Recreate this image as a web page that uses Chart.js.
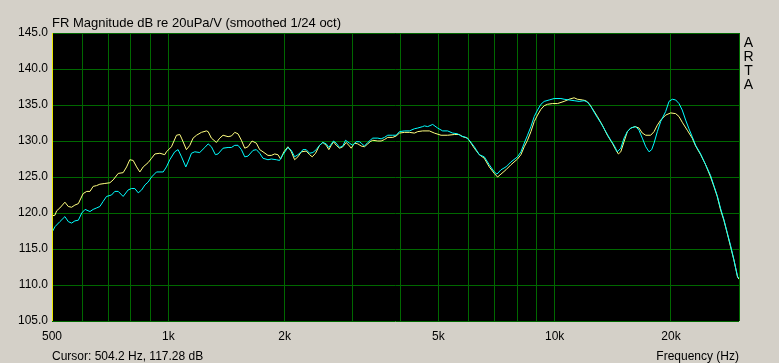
<!DOCTYPE html>
<html>
<head>
<meta charset="utf-8">
<script src="https://cdn.jsdelivr.net/npm/chart.js@4/dist/chart.umd.min.js"></script>
<style>
  html, body { margin: 0; padding: 0; background: #d4d0c8; }
  canvas { display: block; }
</style>
</head>
<body>
<canvas id="fr" width="779" height="363"></canvas>
<script>
const cyanHz = [500,509,524,540,551,562,573,585,597,609,
  627,639,652,665,678,692,713,727,742,764,
  787,803,819,836,853,870,887,905,932,970,
  989,1009,1039,1060,1082,1110,1125,1148,1171,1206,
  1243,1268,1293,1324,1345,1386,1428,1457,1486,1515,
  1546,1577,1608,1657,1690,1724,1758,1811,1848,1904,
  1941,1980,2040,2082,2123,2165,2209,2230,2275,2321,
  2367,2415,2463,2512,2563,2603,2677,2721,2775,2829,
  2875,2944,3003,3064,3125,3157,3219,3283,3330,3382,
  3485,3555,3626,3698,3810,3888,3965,4084,4208,4335,
  4421,4554,4601,4692,4834,4979,5130,5284,5445,5608,
  5722,5895,6013,6195,6382,6575,6773,6978,7091,7261,
  7480,7707,8015,8179,8341,8506,8680,8854,9029,9213,
  9395,9679,9971,10380,10580,10900,11230,11570,11920,12160,
  12410,12780,13170,13560,13970,14250,14530,14830,15120,15420,
  15740,16210,16530,16860,17210,17550,17830,18080,18440,18810,
  19380,19770,20160,20570,20980,21390,21830,22260,22700,23170,
  23870,24590,25330,25830,26350,26890,27410,27960,28530,29100,
  29740,30000];
const cyanDb = [117.3,118.1,118.8,119.5,118.8,118.6,118.9,119.0,120.0,120.5,
  120.2,120.5,120.7,120.9,121.6,122.3,122.5,123.0,123.0,122.3,
  123.2,123.4,123.4,122.8,123.2,123.9,124.3,125.0,125.7,125.7,
  126.4,127.4,128.5,128.8,127.8,126.4,127.1,128.3,128.5,128.4,
  129.1,129.6,129.2,128.1,128.2,129.0,129.1,129.1,129.4,129.4,
  128.8,127.8,127.9,128.7,128.8,128.3,127.6,127.4,127.5,127.4,
  127.3,128.1,129.1,128.7,127.8,128.1,128.5,128.8,128.8,128.3,
  128.4,128.8,129.4,129.8,129.6,129.1,130.0,129.7,129.1,129.3,
  130.1,129.7,129.4,129.9,129.9,129.7,129.3,129.8,130.1,130.4,
  130.4,130.3,130.5,130.8,130.8,130.8,131.3,131.4,131.4,131.7,
  131.8,132.0,132.1,132.0,132.3,131.8,131.4,131.4,131.1,131.0,
  130.7,130.5,130.1,129.2,128.1,127.8,126.7,125.7,125.4,126.0,
  126.4,127.1,127.8,128.5,129.7,130.8,132.0,133.4,134.3,135.1,
  135.5,135.7,135.9,135.9,135.8,135.7,135.6,135.5,135.6,135.4,
  134.8,133.6,132.5,131.3,130.1,129.4,128.5,129.0,130.4,131.3,
  131.8,132.0,131.5,130.4,129.2,128.5,128.8,129.7,131.3,132.7,
  134.1,135.5,135.8,135.7,135.2,134.3,132.9,131.7,130.6,129.4,
  128.2,126.7,125.2,123.8,122.4,120.6,119.1,117.3,115.5,113.5,
  111.2,110.9];

const yellowHz = [500,509,514,524,540,551,562,573,585,602,
  615,627,639,652,665,685,706,720,742,764,
  780,795,811,828,844,861,887,905,923,951,
  979,989,1019,1050,1071,1082,1114,1137,1159,1183,
  1218,1255,1268,1293,1332,1359,1386,1428,1457,1486,
  1515,1546,1577,1608,1647,1690,1724,1758,1811,1848,
  1885,1922,1953,1992,2040,2082,2123,2165,2210,2275,
  2321,2358,2405,2463,2512,2563,2603,2641,2677,2721,
  2775,2829,2887,2944,2974,3033,3094,3157,3219,3283,
  3330,3382,3485,3555,3626,3698,3810,3888,3965,4084,
  4208,4335,4421,4554,4739,4883,5081,5284,5500,5667,
  5779,5954,6075,6195,6382,6575,6773,6978,7116,7261,
  7480,7707,8015,8179,8341,8506,8680,8854,9029,9213,
  9395,9581,9871,10170,10580,10900,11230,11450,11800,12040,
  12280,12520,12900,13290,13690,14100,14390,14620,14830,15120,
  15420,15740,16140,16530,16860,17210,17720,18080,18440,18810,
  19380,19970,20570,20980,21390,22040,22700,23170,23870,24590,
  25330,25830,26350,26890,27410,27960,28530,29100,29740,30000];
const yellowDb = [119.6,119.7,120.3,120.7,121.5,120.9,120.8,121.1,121.3,122.7,
  123.0,123.0,123.7,123.8,124.0,124.1,124.2,124.6,125.5,125.6,
  126.4,127.4,127.3,126.4,125.7,126.4,127.0,127.6,128.2,128.3,
  128.1,128.5,129.2,130.8,130.9,130.4,128.8,129.4,130.4,130.8,
  131.2,131.4,131.3,130.4,129.8,130.4,130.8,130.6,130.7,131.2,
  131.0,130.1,129.0,129.2,130.0,129.7,128.8,128.5,128.0,128.0,
  128.2,128.1,127.5,128.5,129.2,128.5,127.4,127.8,128.5,128.6,
  128.1,127.8,128.3,129.4,129.8,129.4,128.8,129.4,129.9,129.4,
  129.0,129.2,129.8,129.3,129.0,129.7,129.6,129.3,129.2,129.6,
  129.9,130.1,130.0,130.0,130.2,130.5,130.5,130.7,131.1,131.2,
  131.2,131.1,131.3,131.4,131.4,131.1,130.8,130.8,130.9,130.9,
  130.6,130.4,129.7,129.0,128.1,127.6,126.4,125.5,125.0,125.4,
  126.0,126.7,127.5,128.1,129.2,130.1,131.3,132.7,133.6,134.4,
  134.9,135.1,135.2,135.2,135.5,135.8,136.0,135.8,135.7,135.6,
  135.2,134.5,133.4,132.2,130.8,129.7,128.8,128.2,128.5,129.9,
  131.3,131.8,132.0,131.8,131.1,130.8,130.8,131.3,132.2,132.9,
  133.6,133.9,133.8,133.4,132.6,131.5,130.4,129.3,128.1,126.7,
  125.0,123.7,122.3,120.4,119.0,117.2,115.3,113.5,111.1,110.8];

// grid lines on the frequency axis, and which of them get a label
const gridHz = [500,600,700,800,900,1000,2000,3000,4000,5000,6000,7000,8000,9000,10000,20000,30000];
const labelHz = { 500: '500', 1000: '1k', 2000: '2k', 5000: '5k', 10000: '10k', 20000: '20k' };
const dbMin = 105, dbMax = 145, dbStep = 5;
const cursorHz = 504.2;

const FONT = '"Liberation Sans", Arial, sans-serif';
const GRID = '#006800';

function pairs(xs, ys) {
  return xs.map((x, i) => ({ x: x, y: ys[i] }));
}

// gray window, black plot area, cursor and captions
const artaFrame = {
  id: 'artaFrame',
  beforeDraw(chart) {
    const c = chart.ctx, a = chart.chartArea;
    c.save();
    c.fillStyle = '#d4d0c8';
    c.fillRect(0, 0, chart.width, chart.height);
    c.fillStyle = '#000000';
    c.fillRect(a.left, a.top, a.right - a.left, a.bottom - a.top);
    c.restore();
  },
  afterDraw(chart) {
    const c = chart.ctx, a = chart.chartArea;
    const cx = Math.floor(chart.scales.x.getPixelForValue(cursorHz)) - 0.5;
    c.save();
    c.strokeStyle = '#e8e800';
    c.lineWidth = 1;
    c.beginPath();
    c.moveTo(cx, a.top);
    c.lineTo(cx, a.bottom);
    c.stroke();

    c.fillStyle = '#000000';
    c.textBaseline = 'alphabetic';
    c.font = '13px ' + FONT;
    c.textAlign = 'left';
    c.fillText('FR Magnitude dB re 20uPa/V (smoothed 1/24 oct)', a.left, 27);

    c.font = '12px ' + FONT;
    c.fillText('Cursor: 504.2 Hz, 117.28 dB', a.left, 360);
    c.textAlign = 'right';
    c.fillText('Frequency (Hz)', a.right, 360);

    c.font = '14px ' + FONT;
    c.textAlign = 'center';
    'ARTA'.split('').forEach((ch, i) => c.fillText(ch, 748.5, 47 + i * 14));
    c.restore();
  }
};

new Chart(document.getElementById('fr'), {
  type: 'line',
  data: {
    datasets: [
      { data: pairs(cyanHz, cyanDb), borderColor: '#00ffff', borderWidth: 1, pointRadius: 0, tension: 0 },
      { data: pairs(yellowHz, yellowDb), borderColor: '#ffff80', borderWidth: 1, pointRadius: 0, tension: 0 }
    ]
  },
  options: {
    responsive: false,
    animation: false,
    events: [],
    layout: { padding: { top: 33, right: 40, left: 0, bottom: 0 } },
    plugins: { legend: { display: false }, tooltip: { enabled: false } },
    scales: {
      x: {
        type: 'logarithmic',
        min: gridHz[0],
        max: gridHz[gridHz.length - 1],
        afterBuildTicks: (s) => { s.ticks = gridHz.map(v => ({ value: v })); },
        afterFit: (s) => { s.height = 42; },
        ticks: {
          autoSkip: false,
          maxRotation: 0,
          padding: 8,
          color: '#000000',
          font: { family: FONT, size: 12 },
          callback: (v) => labelHz[v] || ''
        },
        grid: { color: GRID, drawTicks: false },
        border: { display: false }
      },
      y: {
        min: dbMin,
        max: dbMax,
        afterFit: (s) => { s.width = 52; },
        ticks: {
          stepSize: dbStep,
          padding: 4,
          color: '#000000',
          font: { family: FONT, size: 12 },
          callback: (v) => v.toFixed(1)
        },
        grid: { color: GRID, drawTicks: false },
        border: { display: false }
      }
    }
  },
  plugins: [artaFrame]
});
</script>
</body>
</html>
